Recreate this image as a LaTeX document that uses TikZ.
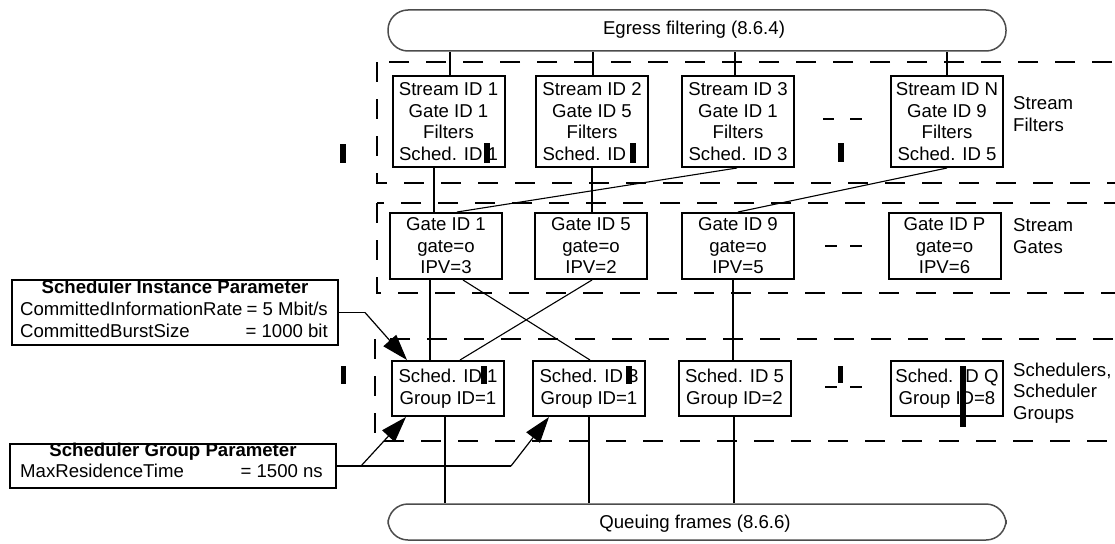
\documentclass[tikz,border=0pt]{standalone}
\usepackage{fontspec}
\setmainfont{Liberation Sans}
\usetikzlibrary{arrows.meta}
\begin{document}
\begin{tikzpicture}[x=1pt,y=-1pt,
  every node/.style={font=\fontsize{18.6}{21.5}\selectfont, inner sep=0pt},
  box/.style={draw, line width=2pt, align=center, minimum width=112pt},
  fbox/.style={box, minimum height=91pt},
  gbox/.style={box, minimum height=66pt},
  sbox/.style={box, minimum height=55pt},
  region/.style={line width=2pt, dash pattern=on 20pt off 17pt},
  vlink/.style={line width=1.8pt},
  dlink/.style={line width=1.1pt},
  pbox/.style={draw, line width=2pt},
  ptr/.style={line width=1.2pt, -{Triangle[length=26pt,width=17pt]}},
  ellip/.style={line width=2pt},
  blot/.style={fill=black},
  lbl/.style={anchor=west, align=left},
  rbox/.style={draw=black!70, line width=1.5pt, rounded corners=20pt, minimum width=618pt},
]
\useasboundingbox (0,0) rectangle (1115,543);
\clip (0,0) rectangle (1115,543);

% dashed regions
\draw[region] (377,62) rectangle (1160,183);
\draw[region] (377,203) rectangle (1160,293);
\draw[region] (375,339) rectangle (1160,441);

% rounded bars
\node[rbox, minimum height=41pt] (egress) at (697,30.5) {};
\node (egtxt) at (694,30) {Egress filtering (8.6.4)};
\node[rbox, minimum height=36pt] (queue) at (697,522) {};
\node (qtxt) at (695,524) {Queuing frames (8.6.6)};

% stream filters
\node[fbox] (f1) at (448.5,121.5) {Stream ID 1\\Gate ID 1\\Filters\\Sched. ID 1};
\node[fbox] (f2) at (592,121.5) {Stream ID 2\\Gate ID 5\\Filters\\Sched. ID\phantom{ 1}};
\node[fbox] (f3) at (738,121.5) {Stream ID 3\\Gate ID 1\\Filters\\Sched. ID 3};
\node[fbox] (fN) at (947,121.5) {Stream ID N\\Gate ID 9\\Filters\\Sched. ID 5};
\node[lbl] (lf) at (1013,114) {Stream\\Filters};

% stream gates
\node[gbox] (g1) at (446,246) {Gate ID 1\\gate=o\\IPV=3};
\node[gbox] (g5) at (591,246) {Gate ID 5\\gate=o\\IPV=2};
\node[gbox] (g9) at (738,246) {Gate ID 9\\gate=o\\IPV=5};
\node[gbox] (gP) at (944.5,246) {Gate ID P\\gate=o\\IPV=6};
\node[lbl] (lg) at (1013,236) {Stream\\Gates};

% schedulers
\node[sbox] (s1) at (448,388.5) {Sched. ID 1\\Group ID=1};
\node[sbox] (s3) at (589,388.5) {Sched. ID 3\\Group ID=1};
\node[sbox] (s5) at (734.5,388.5) {Sched. ID 5\\Group ID=2};
\node[sbox] (sQ) at (947,388.5) {Sched. ID Q\\Group ID=8};
\node[lbl] (ls) at (1013,393) {Schedulers,\\Scheduler\\Groups};

% ellipsis dashes
\draw[ellip] (823,119) -- (834,119) (850,119) -- (862,119);
\draw[ellip] (825,246) -- (837,246) (850,246) -- (862,246);
\draw[ellip] (825,387) -- (837,387) (850,387) -- (862,387);

% egress -> filters
\draw[vlink] ([xshift=1.5pt]f1.north) -- ([xshift=1.5pt]f1.north |- egress.south);
\draw[vlink] ([xshift=1pt]f2.north) -- ([xshift=1pt]f2.north |- egress.south);
\draw[vlink] ([xshift=-3pt]f3.north) -- ([xshift=-3pt]f3.north |- egress.south);
\draw[vlink] (fN.north) -- (fN.north |- egress.south);

% filters -> gates
\draw[vlink] ([xshift=-14.5pt]f1.south) -- ([xshift=-12pt]g1.north);
\draw[vlink] (f2.south) -- ([xshift=1pt]g5.north);
\draw[dlink] ([xshift=-1pt]f3.south) -- ([xshift=11pt]g1.north);
\draw[dlink] (fN.south) -- (g9.north);

% gates -> schedulers
\draw[vlink] ([xshift=-16pt]g1.south) -- ([xshift=-18pt]s1.north);
\draw[dlink] ([xshift=17pt]g1.south) -- ([xshift=1pt]s3.north);
\draw[dlink] ([xshift=1pt]g5.south) -- ([xshift=12pt]s1.north);
\draw[vlink] ([xshift=-5pt]g9.south) -- ([xshift=-1.5pt]s5.north);

% schedulers -> queuing
\draw[vlink] ([xshift=-3pt]s1.south) -- ([xshift=-3pt]s1.south |- queue.north);
\draw[vlink] (s3.south) -- (s3.south |- queue.north);
\draw[vlink] ([xshift=-0.5pt]s5.south) -- ([xshift=-0.5pt]s5.south |- queue.north);

% parameter boxes
\node[pbox, minimum width=326pt, minimum height=65pt] (inst) at (175,312.5) {};
\node[anchor=base, font=\fontsize{18.6}{21.5}\selectfont\bfseries] (insttitle) at (175,293) {Scheduler Instance Parameter};
\node[anchor=base west] (i1a) at (20,315) {CommittedInformationRate};
\node[anchor=base east] (i1b) at (328,315) {= 5 Mbit/s};
\node[anchor=base west] (i2a) at (20,337) {CommittedBurstSize};
\node[anchor=base east] (i2b) at (328,337) {= 1000 bit};

\node[pbox, minimum width=326pt, minimum height=44pt] (grp) at (173,466) {};
\node[anchor=base, font=\fontsize{18.6}{21.5}\selectfont\bfseries] (grptitle) at (173,456) {Scheduler Group Parameter};
\node[anchor=base west] (g1a) at (20,477) {MaxResidenceTime};
\node[anchor=base east] (g1b) at (323,477) {= 1500 ns};

% parameter arrows
\coordinate (ij) at (365,312.5);
\draw[line width=1.5pt] (inst.east) -- (ij);
\draw[ptr] (ij) -- ([xshift=16pt]s1.north west);
\coordinate (gj1) at (361,466);
\coordinate (gj2) at (511,466);
\draw[line width=1.5pt] (grp.east) -- (gj2);
\draw[ptr] (gj2) -- ([xshift=17pt]s3.south west);
\draw[ptr] (gj1) -- ([xshift=15pt]s1.south west);

% black marks
\fill[blot] (340,144) rectangle (346,163);
\fill[blot] (484,143) rectangle (490,163);
\fill[blot] (630,143) rectangle (636,163);
\fill[blot] (838,143) rectangle (844,162);
\fill[blot] (341,366) rectangle (346,384);
\fill[blot] (481,366) rectangle (487,384);
\fill[blot] (626,366) rectangle (632,384);
\fill[blot] (838,366) rectangle (843,383);
\fill[blot] (960,366) rectangle (966,427);
\end{tikzpicture}
\end{document}
